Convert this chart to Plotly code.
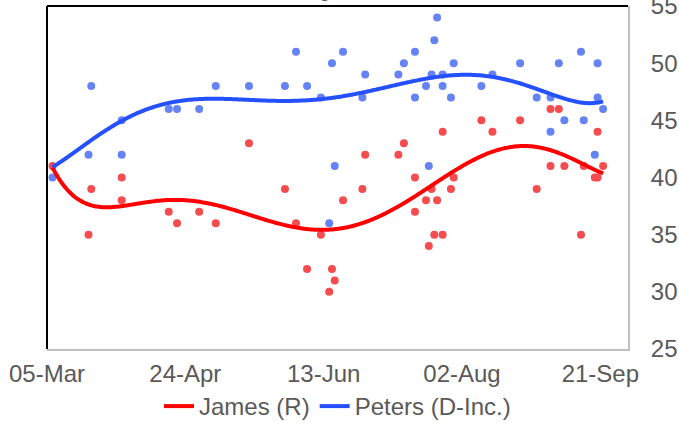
import numpy as np
import pandas as pd
import plotly.graph_objects as go

# ---- data ----
poll_dates = [
    "2020-03-07", "2020-03-20", "2020-03-21", "2020-04-01", "2020-04-01",
    "2020-04-18", "2020-04-21", "2020-04-29", "2020-05-05", "2020-05-17",
    "2020-05-30", "2020-06-03", "2020-06-07", "2020-06-12", "2020-06-15",
    "2020-06-16", "2020-06-17", "2020-06-20", "2020-06-27", "2020-06-28",
    "2020-07-10", "2020-07-12", "2020-07-16", "2020-07-16", "2020-07-20",
    "2020-07-21", "2020-07-22", "2020-07-23", "2020-07-24", "2020-07-26",
    "2020-07-26", "2020-07-29", "2020-07-30", "2020-08-09", "2020-08-13",
    "2020-08-23", "2020-08-29", "2020-09-03", "2020-09-03", "2020-09-06",
    "2020-09-08", "2020-09-14", "2020-09-15", "2020-09-19", "2020-09-20",
    "2020-09-20", "2020-09-22",
]
james = [
    41, 35, 39, 40, 38,
    37, 36, 37, 36, 43,
    39, 36, 32, 35, 30,
    32, 31, 38, 39, 42,
    42, 43, 40, 37, 38,
    34, 39, 35, 38, 44,
    35, 39, 40, 45, 44,
    45, 39, 46, 41, 46,
    41, 35, 41, 40, 40,
    44, 41,
]
peters = [
    40, 42, 48, 45, 42,
    46, 46, 46, 48, 48,
    48, 51, 48, 47, 36,
    50, 41, 51, 47, 49,
    49, 50, 51, 47, 48,
    41, 49, 52, 54, 49,
    48, 47, 50, 48, 49,
    50, 47, 47, 44, 50,
    45, 51, 45, 42, 50,
    47, 46,
]
series_names = ["James (R)", "Peters (D-Inc.)"]
tick_dates = ["2020-03-05", "2020-04-24", "2020-06-13", "2020-08-02", "2020-09-21"]
tick_labels = ["05-Mar", "24-Apr", "13-Jun", "02-Aug", "21-Sep"]
y_ticks = [25, 30, 35, 40, 45, 50, 55]

# ---- polynomial (order 6) trendlines, like the spreadsheet's ----
dates = pd.to_datetime(poll_dates)
origin = pd.Timestamp(tick_dates[0])
days = np.asarray((dates - origin).days, dtype=float)
grid = np.linspace(days.min(), days.max(), 300)
grid_dates = origin + pd.to_timedelta(grid, unit="D")
trend_j = np.polyval(np.polyfit(days, james, 6), grid)
trend_p = np.polyval(np.polyfit(days, peters, 6), grid)

RED_DOT = "#f44c4f"
BLUE_DOT = "#6583f5"
RED_LINE = "#ff0000"
BLUE_LINE = "#2550ff"
GREY = "#595959"
FONT = "Liberation Sans, Arial, sans-serif"
FS = 24

fig = go.Figure()
fig.add_trace(go.Scatter(x=dates, y=peters, mode="markers", showlegend=False,
                         marker=dict(size=8, color=BLUE_DOT), hoverinfo="x+y"))
fig.add_trace(go.Scatter(x=dates, y=james, mode="markers", showlegend=False,
                         marker=dict(size=8, color=RED_DOT), hoverinfo="x+y"))
fig.add_trace(go.Scatter(x=grid_dates, y=trend_j, mode="lines", name=series_names[0],
                         line=dict(color=RED_LINE, width=4, shape="spline"), legendrank=1))
fig.add_trace(go.Scatter(x=grid_dates, y=trend_p, mode="lines", name=series_names[1],
                         line=dict(color=BLUE_LINE, width=4, shape="spline"), legendrank=2))

fig.update_layout(
    width=679, height=429,
    margin=dict(l=47, r=51, t=6, b=80, autoexpand=False),
    paper_bgcolor="white", plot_bgcolor="white",
    font=dict(family=FONT, size=FS, color=GREY),
    showlegend=True,
    legend=dict(orientation="h", x=0.5, xanchor="center",
                yref="container", y=0.0, yanchor="bottom",
                bgcolor="rgba(0,0,0,0)",
                font=dict(size=FS, color=GREY), itemwidth=30, tracegroupgap=0),
    xaxis=dict(
        type="date", range=["2020-03-05", "2020-10-01"],
        tickmode="array", tickvals=tick_dates, ticktext=tick_labels,
        showgrid=False, zeroline=False, ticks="",
        showline=True, linecolor="#bfbfbf", linewidth=2,
        tickfont=dict(size=FS, color=GREY), ticklabelstandoff=2,
        automargin=False, ticklabeloverflow="allow",
    ),
    yaxis=dict(
        side="right", range=[25, 55], tickmode="array", tickvals=y_ticks,
        showgrid=False, zeroline=False, ticks="",
        showline=True, linecolor="#bfbfbf", linewidth=2,
        tickfont=dict(size=FS, color=GREY), ticklabelstandoff=16,
        automargin=False, ticklabeloverflow="allow",
    ),
    shapes=[
        dict(type="line", xref="paper", yref="paper", x0=0, x1=0, y0=0, y1=1,
             line=dict(color="black", width=2)),
        dict(type="line", xref="paper", yref="paper", x0=0, x1=1, y0=1, y1=1,
             line=dict(color="black", width=2)),
    ],
    annotations=[
        dict(text="Michigan Senate", xref="paper", yref="paper", x=0.5, y=1,
             xanchor="center", yanchor="bottom", showarrow=False,
             font=dict(family=FONT, size=19, color=GREY), yshift=3, xshift=8),
    ],
)

fig.write_html("out.html", config={"displayModeBar": False},
               post_script="document.body.style.margin='0';")
